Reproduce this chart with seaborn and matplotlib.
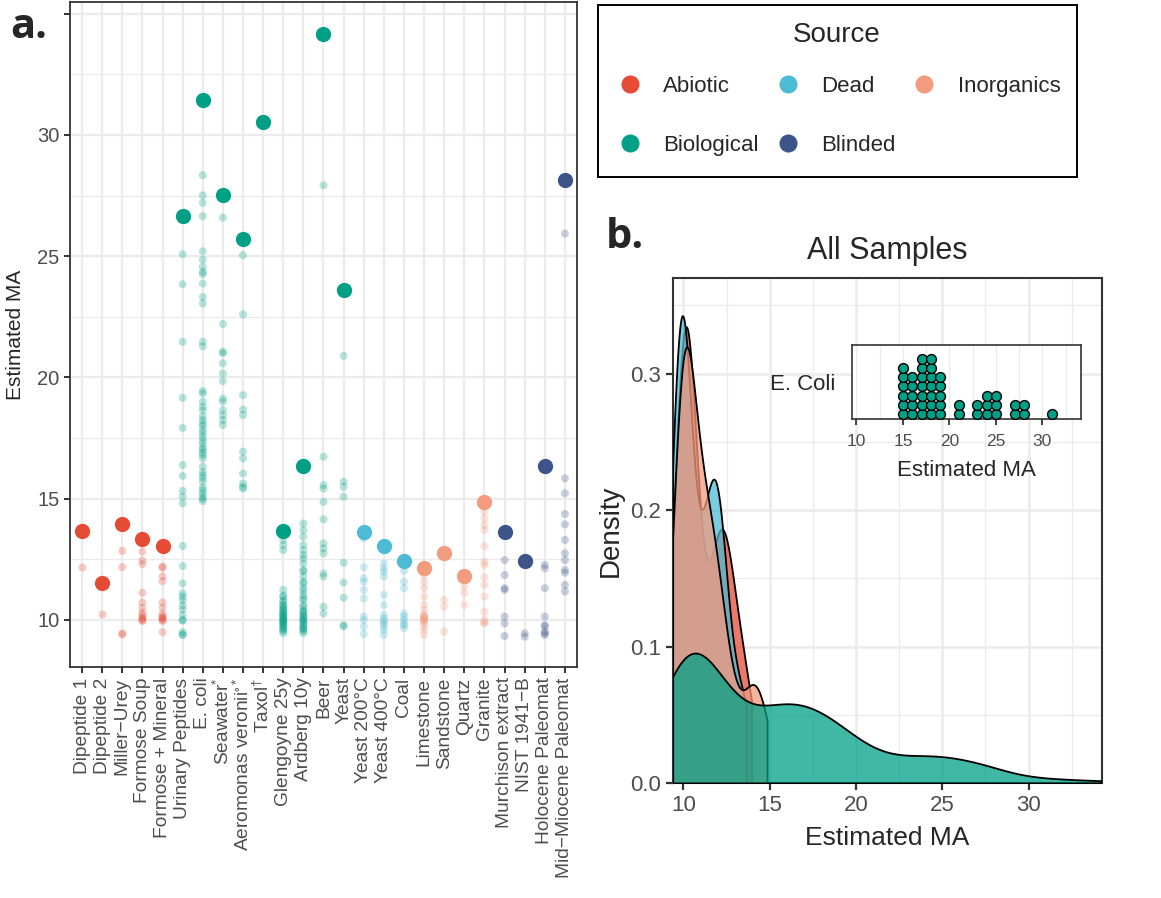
import numpy as np
import pandas as pd
import matplotlib
matplotlib.use("Agg")
import matplotlib.pyplot as plt
from matplotlib.ticker import MultipleLocator
from matplotlib.lines import Line2D
from matplotlib.patches import Rectangle
import seaborn as sns

# === Data ===
samples = ["Dipeptide 1", "Dipeptide 2", "Miller-Urey", "Formose Soup", "Formose + Mineral",
           "Urinary Peptides", "E. coli", "Seawater", "Aeromonas veronii", "Taxol",
           "Glengoyne 25y", "Ardberg 10y", "Beer", "Yeast", "Yeast 200C", "Yeast 400C", "Coal",
           "Limestone", "Sandstone", "Quartz", "Granite", "Murchison extract", "NIST 1941-B",
           "Holocene Paleomat", "Mid-Miocene Paleomat"]
tick_labels = ["Dipeptide 1", "Dipeptide 2", "Miller\u2212Urey", "Formose Soup", "Formose + Mineral",
               "Urinary Peptides", "E. coli", r"Seawater$^{*}$", r"Aeromonas veronii$^{\circ*}$",
               r"Taxol$^{\dagger}$", "Glengoyne 25y", "Ardberg 10y", "Beer", "Yeast",
               "Yeast 200\u00b0C", "Yeast 400\u00b0C", "Coal", "Limestone", "Sandstone", "Quartz",
               "Granite", "Murchison extract", "NIST 1941\u2212B", "Holocene Paleomat",
               "Mid\u2212Miocene Paleomat"]
sources = ["Abiotic"] * 5 + ["Biological"] * 9 + ["Dead"] * 3 + ["Inorganics"] * 4 + ["Blinded"] * 4

# highlighted estimate per sample (large dots)
best_ma = [13.65, 11.52, 13.95, 13.35, 13.03, 26.65, 31.45, 27.51, 25.71, 30.53,
           13.67, 16.35, 34.17, 23.60, 13.64, 13.05, 12.44, 12.13, 12.75, 11.81,
           14.85, 13.64, 12.44, 16.35, 28.13]

# individual measurements (faint dots; dense stacks overlap heavily)
other_ma = [
    [12.18],
    [10.23],
    [12.85, 12.18, 9.45, 9.40],
    [12.82, 12.45, 12.30, 11.12, 10.72, 10.50, 10.30, 10.10, 10.00, 10.05, 10.20, 9.95],
    [12.20, 12.15, 11.80, 11.60, 10.72, 10.50, 10.25, 10.05, 9.50, 10.00, 10.10, 9.95, 10.15],
    [25.08, 23.84, 21.47, 19.16, 17.92, 16.39, 15.94, 15.32, 15.08, 14.81, 13.05, 12.22,
     11.51, 11.10, 10.96, 10.82, 10.44, 9.97, 9.38, 9.40, 10.00, 9.50, 10.60, 10.20],
    [15.08, 15.21, 15.35, 14.90, 15.00, 15.45,
     15.70, 15.97, 16.32, 16.10, 15.85,
     16.66, 17.03, 17.28, 16.80, 17.10, 17.40, 16.90,
     17.55, 17.83, 18.24, 18.00, 17.70, 18.10, 18.40,
     18.65, 18.79, 19.34, 19.44, 19.00,
     21.29, 21.47, 23.05, 23.32, 23.87, 24.26, 24.35,
     24.56, 24.86, 25.20, 26.65, 27.20, 27.51, 28.34],
    [26.59, 22.20, 21.06, 21.00, 20.58, 20.16, 19.85, 19.13, 19.00, 18.65, 18.45, 18.24, 18.04],
    [25.04, 22.60, 19.27, 18.68, 18.45, 16.94, 16.66, 16.04, 15.63, 15.49, 15.42],
    [],
    [13.30, 13.09, 12.88, 11.24, 10.96, 10.76, 10.62, 10.48, 10.34, 10.21, 10.07, 9.93,
     9.79, 9.66, 9.45, 9.60, 9.80, 9.90, 10.00, 10.10, 10.30, 10.50, 9.55, 9.70, 10.20,
     10.40, 10.60, 10.80, 11.00, 9.90, 10.00, 10.20],
    [13.98, 13.71, 13.43, 13.09, 12.88, 12.68, 12.54, 12.33, 12.06, 11.79, 11.58, 11.31,
     11.03, 10.82, 10.55, 10.34, 10.14, 9.93, 9.79, 9.66, 9.45, 9.60, 9.85, 10.00, 10.20,
     10.40, 9.70, 9.55, 10.10, 10.60, 10.90, 11.20, 11.50, 12.00, 10.30, 10.00],
    [27.92, 16.73, 15.56, 15.42, 14.87, 14.15, 13.16, 12.95, 12.75, 11.92, 11.79, 10.55, 10.27],
    [20.89, 15.70, 15.49, 15.08, 12.36, 11.54, 10.92, 9.79, 9.73],
    [13.37, 12.17, 11.72, 11.58, 11.24, 10.89, 10.14, 10.00, 9.73, 9.42],
    [12.33, 12.13, 11.99, 11.79, 11.03, 10.62, 10.21, 9.86, 9.73, 9.59, 9.38, 9.95, 10.05],
    [12.03, 11.58, 11.31, 10.27, 10.14, 9.86, 9.79, 9.66, 10.00],
    [11.85, 11.58, 11.31, 10.96, 10.62, 10.41, 10.21, 10.07, 9.93, 9.73, 9.59, 9.38,
     9.90, 10.00, 10.10, 10.15, 10.05],
    [10.82, 10.55, 9.52],
    [11.37, 11.10, 10.62],
    [14.46, 14.19, 13.91, 13.71, 13.05, 12.40, 12.27, 11.76, 11.44, 10.96, 10.34, 9.86,
     10.00, 9.90],
    [12.47, 11.85, 11.31, 11.24, 10.14, 9.86, 9.34],
    [9.45, 9.31],
    [12.27, 12.13, 11.31, 10.14, 9.79, 9.73, 9.52, 9.45, 9.38],
    [25.93, 15.84, 15.22, 14.37, 13.94, 13.30, 12.75, 12.47, 12.06, 11.95, 11.44, 11.17],
]

source_order = ["Abiotic", "Biological", "Dead", "Blinded", "Inorganics"]
palette = {"Abiotic": "#E64B35", "Biological": "#00A087", "Dead": "#4DBBD5",
           "Inorganics": "#F39B7F", "Blinded": "#3C5488"}

# === Build tables ===
best = pd.DataFrame({"sample": samples, "source": sources, "ma": best_ma})
rows = [(s, src, v) for s, src, vals in zip(samples, sources, other_ma) for v in vals]
other = pd.DataFrame(rows, columns=["sample", "source", "ma"])
allv = pd.concat([best, other], ignore_index=True)

# === Style ===
sns.set_style("white")
plt.rcParams["font.family"] = ["Liberation Sans", "DejaVu Sans"]
plt.rcParams["mathtext.fontset"] = "custom"
plt.rcParams["mathtext.rm"] = "Liberation Sans"
plt.rcParams["mathtext.it"] = "Liberation Sans:italic"
plt.rcParams["mathtext.default"] = "regular"
grid_c = "#EBEBEB"
tick_c = "#4D4D4D"

fig = plt.figure(figsize=(11.61, 8.98), dpi=100)
W, H = 1161, 898


def px_axes(l, t, r, b):
    return fig.add_axes([l / W, 1 - b / H, (r - l) / W, (b - t) / H])


def frame(ax, lw=1.3):
    for sp in ax.spines.values():
        sp.set_visible(True)
        sp.set_color("#333333")
        sp.set_linewidth(lw)


# === Panel a ===
ax_a = px_axes(70, 2, 577, 667)
sns.stripplot(data=other, x="sample", y="ma", hue="source", order=samples,
              hue_order=source_order, palette=palette, jitter=False, size=5.8,
              alpha=0.28, linewidth=0, legend=False, ax=ax_a, zorder=3)
sns.stripplot(data=best, x="sample", y="ma", hue="source", order=samples,
              hue_order=source_order, palette=palette, jitter=False, size=11,
              linewidth=0, legend=False, ax=ax_a, zorder=4)
ax_a.set_xlim(-0.6, 24.6)
ax_a.set_ylim(8.06, 35.48)
ax_a.set_yticks([10, 15, 20, 25, 30, 35])
ax_a.set_yticklabels(["10", "15", "20", "25", "30", ""])
ax_a.yaxis.set_minor_locator(MultipleLocator(2.5))
ax_a.set_xticks(range(len(samples)))
ax_a.set_xticklabels(tick_labels, rotation=90, fontsize=13.8, color=tick_c)
ax_a.tick_params(axis="y", labelsize=14.5, colors=tick_c)
ax_a.tick_params(axis="both", which="major", length=4, width=1.4, color="#333333",
                 left=True, bottom=True)
ax_a.tick_params(axis="y", which="minor", length=0)
ax_a.grid(True, which="major", color=grid_c, linewidth=1.6, zorder=0)
ax_a.grid(True, which="minor", axis="y", color=grid_c, linewidth=1.0, zorder=0)
ax_a.set_axisbelow(True)
ax_a.set_xlabel("")
ax_a.set_ylabel("Estimated MA", fontsize=15, labelpad=9)
frame(ax_a)

# === Panel b ===
ax_b = px_axes(673, 278, 1102, 783)
density_order = ["Abiotic", "Dead", "Inorganics", "Biological"]
for src in density_order:
    vals = allv.loc[allv["source"] == src, "ma"].to_numpy()
    sd = vals.std(ddof=1)
    iqr = np.subtract(*np.percentile(vals, [75, 25]))
    adj = 0.9 * min(sd, iqr / 1.34) / sd  # mimic R's bw.nrd0
    sns.kdeplot(x=vals, fill=True, alpha=0.75, color=palette[src], edgecolor="black",
                linewidth=1.3, cut=0, bw_adjust=adj, ax=ax_b, zorder=3)
ax_b.set_xlim(9.4, 34.25)
ax_b.set_ylim(0, 0.37)
ax_b.set_xticks([10, 15, 20, 25, 30])
ax_b.set_yticks([0.0, 0.1, 0.2, 0.3])
ax_b.set_yticklabels(["0.0", "0.1", "0.2", "0.3"])
ax_b.xaxis.set_minor_locator(MultipleLocator(2.5))
ax_b.yaxis.set_minor_locator(MultipleLocator(0.05))
ax_b.tick_params(axis="both", which="major", labelsize=16, colors=tick_c, length=5,
                 width=1.6, left=True, bottom=True)
ax_b.tick_params(axis="both", which="minor", length=0)
ax_b.tick_params(axis="both", which="major", color="#333333")
ax_b.grid(True, which="major", color=grid_c, linewidth=1.8, zorder=0)
ax_b.grid(True, which="minor", color=grid_c, linewidth=1.0, zorder=0)
ax_b.set_axisbelow(True)
ax_b.set_title("All Samples", fontsize=22, pad=14)
ax_b.set_xlabel("Estimated MA", fontsize=19, labelpad=7)
ax_b.set_ylabel("Density", fontsize=20, labelpad=5)
frame(ax_b, 1.5)

# === Inset: E. coli dot plot ===
ax_in = px_axes(852, 345, 1081, 419)
ecoli = allv.loc[allv["sample"] == "E. coli", ["ma"]].copy()
ecoli["bin"] = np.round(ecoli["ma"])
ecoli = ecoli.sort_values("bin")
ecoli["stack"] = ecoli.groupby("bin").cumcount()
sns.scatterplot(data=ecoli, x="bin", y="stack", color=palette["Biological"], s=50,
                edgecolor="black", linewidth=1.0, legend=False, ax=ax_in, zorder=3)
ax_in.set_xlim(9.53, 34.14)
ax_in.set_ylim(-0.5, 7.46)
ax_in.set_xticks([10, 15, 20, 25, 30])
ax_in.xaxis.set_minor_locator(MultipleLocator(2.5))
ax_in.set_yticks([3.5])
ax_in.set_yticklabels(["E. Coli"])
ax_in.tick_params(axis="y", length=0, labelsize=16, pad=12)
ax_in.tick_params(axis="x", labelsize=12.5, colors=tick_c, length=4, width=1.3,
                  bottom=True, color="#333333", pad=7)
ax_in.grid(True, which="both", axis="x", color=grid_c, linewidth=1.0, zorder=0)
ax_in.set_axisbelow(True)
ax_in.set_xlabel("Estimated MA", fontsize=16, labelpad=8)
ax_in.set_ylabel("")
ax_in.set_facecolor("white")
frame(ax_in, 1.2)

# === Legend (frame + title drawn separately for exact placement) ===
fig.patches.append(Rectangle((598 / W, 1 - 177 / H), 479 / W, 172 / H,
                             transform=fig.transFigure, facecolor="white",
                             edgecolor="black", linewidth=1.4, zorder=1))
fig.text(837 / W, 1 - 35 / H, "Source", fontsize=20, ha="center", va="center")
handles = [Line2D([], [], marker="o", linestyle="", markersize=13,
                  markerfacecolor=palette[s], markeredgewidth=0) for s in source_order]
leg = fig.legend(handles, source_order, loc="upper left",
                 bbox_to_anchor=(619 / W, 1 - 76 / H), ncol=3,
                 fontsize=16, frameon=False, borderpad=0, labelspacing=1.7,
                 handlelength=1.0, columnspacing=0.8, handletextpad=1.0, borderaxespad=0)

# === Panel letters ===
fig.text(10 / W, 1 - 27 / H, "a.", fontsize=30, fontweight="bold",
         family=["Open Sans", "DejaVu Sans"], va="center", ha="left")
fig.text(606 / W, 1 - 238 / H, "b.", fontsize=30, fontweight="bold",
         family=["Open Sans", "DejaVu Sans"], va="center", ha="left")

fig.savefig("out.png", dpi=100)
